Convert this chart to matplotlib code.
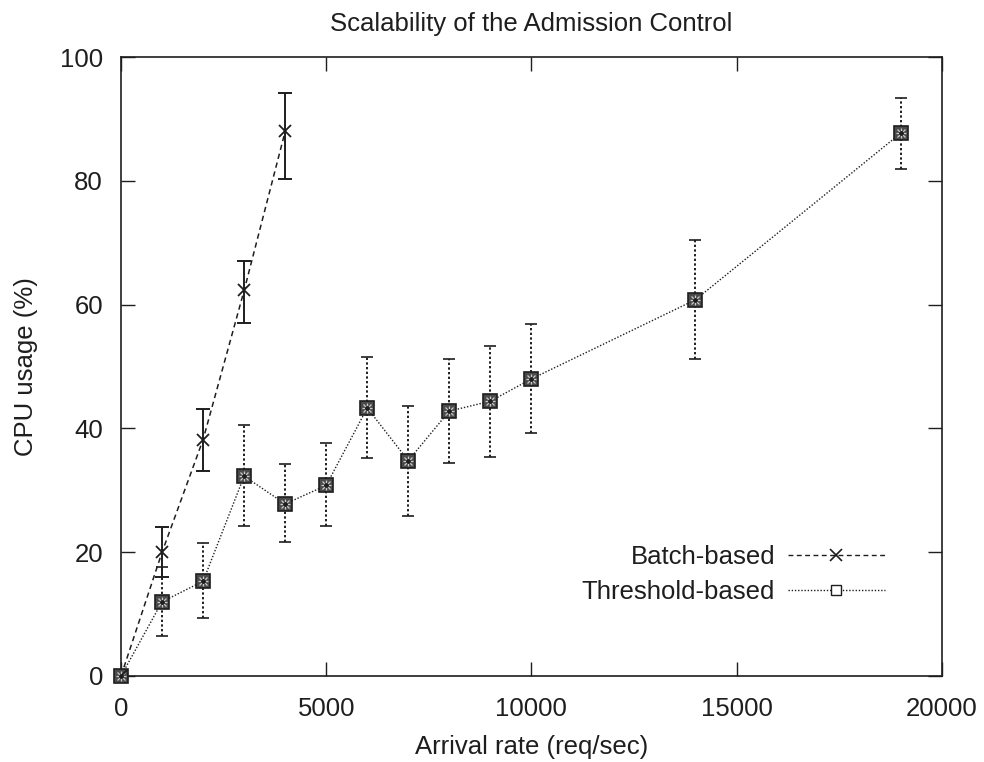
import matplotlib
matplotlib.use("Agg")
import matplotlib.pyplot as plt
from matplotlib.lines import Line2D

plt.rcParams['font.family'] = ['Liberation Sans', 'DejaVu Sans']

batch_x = [0, 1000, 2000, 3000, 4000]
batch_y = [0, 20.0, 38.2, 62.3, 88.0]
batch_lo = [0, 16.0, 33.2, 57.0, 80.3]
batch_hi = [0, 24.0, 43.2, 67.0, 94.2]

thr_x = [0, 1000, 2000, 3000, 4000, 5000, 6000, 7000, 8000, 9000, 10000, 14000, 19000]
thr_y = [0, 12.0, 15.3, 32.3, 27.8, 30.8, 43.3, 34.8, 42.8, 44.4, 48.0, 60.8, 87.7]
thr_lo = [0, 6.4, 9.3, 24.2, 21.6, 24.2, 35.2, 25.8, 34.4, 35.4, 39.2, 51.2, 82.0]
thr_hi = [0, 17.6, 21.5, 40.6, 34.2, 37.7, 51.5, 43.7, 51.3, 53.3, 56.8, 70.5, 93.4]

xticks = [0, 5000, 10000, 15000, 20000]
yticks = [0, 20, 40, 60, 80, 100]

col = '#1e1e1e'
FS = 18.5
fig = plt.figure(figsize=(9.84, 7.62), dpi=100)
ax = fig.add_axes([0.123, 0.1129, 0.834, 0.8121])

def errs(y, lo, hi):
    return [[a - b for a, b in zip(y, lo)], [b - a for a, b in zip(y, hi)]]

# Threshold-based
eb = ax.errorbar(thr_x, thr_y, yerr=errs(thr_y, thr_lo, thr_hi), fmt='none',
                 ecolor=col, elinewidth=1.4, capsize=4, capthick=1.2)
for c in eb[2]:
    c.set_linestyle((0, (1.2, 1.2)))
ax.plot(thr_x, thr_y, color=col, linestyle=(0, (1, 1.3)), linewidth=1.0)
ax.plot(thr_x, thr_y, linestyle='none', marker='s', markersize=9.5,
        markerfacecolor='#4a4a4a', markeredgecolor=col, markeredgewidth=1.2,
        clip_on=False, zorder=5)
ax.plot(thr_x, thr_y, linestyle='none', marker='+', markersize=7,
        markeredgecolor='#cccccc', markeredgewidth=0.9, clip_on=False, zorder=6)
ax.plot(thr_x, thr_y, linestyle='none', marker='x', markersize=6,
        markeredgecolor='#cccccc', markeredgewidth=0.9, clip_on=False, zorder=6)
ax.plot(thr_x, thr_y, linestyle='none', marker='o', markersize=2.5,
        markerfacecolor=col, markeredgecolor=col, clip_on=False, zorder=7)

# Batch-based
ax.errorbar(batch_x, batch_y, yerr=errs(batch_y, batch_lo, batch_hi), fmt='none',
            ecolor=col, elinewidth=1.4, capsize=5, capthick=1.4)
ax.plot(batch_x, batch_y, color=col, linestyle=(0, (3.5, 2.5)), linewidth=1.1)
ax.plot(batch_x, batch_y, linestyle='none', marker='x', markersize=9,
        markeredgecolor=col, markeredgewidth=1.3, zorder=7)

ax.set_xlim(0, 20000)
ax.set_ylim(0, 100)
ax.set_xticks(xticks)
ax.set_yticks(yticks)
ax.tick_params(direction='in', length=10, width=1.0, top=True, right=True,
               labelsize=FS, colors=col, pad=13)
ax.tick_params(axis='x', pad=15)
for s in ax.spines.values():
    s.set_linewidth(1.2)
    s.set_color(col)

ax.set_title('Scalability of the Admission Control', fontsize=FS, color=col, pad=19)
ax.set_xlabel('Arrival rate (req/sec)', fontsize=FS, color=col, labelpad=10)
ax.set_ylabel('CPU usage (%)', fontsize=FS, color=col, labelpad=16)

h1 = Line2D([], [], color=col, linestyle=(0, (3.5, 2.5)), linewidth=1.0,
            marker='x', markersize=8, markeredgewidth=1.2)
h2 = Line2D([], [], color=col, linestyle=(0, (1, 1.3)), linewidth=1.0,
            marker='s', markersize=7, markerfacecolor='white', markeredgewidth=1.0)
leg = ax.legend([h1, h2], ['Batch-based', 'Threshold-based'], loc='lower right',
                bbox_to_anchor=(0.9306, 0.117), borderaxespad=0, borderpad=0,
                frameon=False, markerfirst=False,
                fontsize=FS, handlelength=3.77, labelspacing=0.42, handletextpad=0.5)
for t in leg.get_texts():
    t.set_color(col)

fig.savefig('out.png', dpi=100)
